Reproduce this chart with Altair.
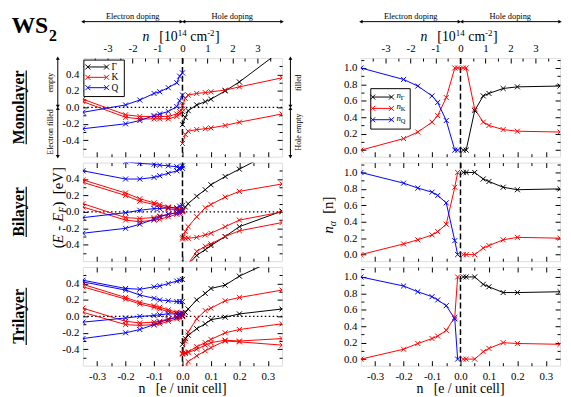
import altair as alt
import pandas as pd

FONT = "Liberation Serif, Times New Roman, serif"
BLACK, RED, BLUE = "#000000", "#ff0000", "#0000ff"
XPATH = "M-1,-1L1,1M-1,1L1,-1"
NB = "\u00a0"

# ---------------- doping grids (e / unit cell) ----------------
XB_E = [-0.35, -0.2, -0.15, -0.1, -0.08, -0.05, -0.02, -0.01, 0.0]
XB_H = [0.0, 0.01, 0.02, 0.05, 0.08, 0.1, 0.15, 0.2, 0.35]
XO_E = [-0.35, -0.2, -0.15, -0.1, -0.08, -0.05, -0.02, -0.01]
XO_H = [0.01, 0.02, 0.05, 0.08, 0.1, 0.15, 0.2, 0.35]

# ---------------- band energies (E - E_F) [eV] ----------------
# Monolayer
M_Q1 = [-0.06, 0.03, 0.09, 0.17, 0.19, 0.24, 0.30, 0.38, 0.42]
M_Q2 = [-0.26, -0.20, -0.16, -0.10, -0.08, -0.05, 0.01, 0.08, 0.15]
M_K1 = [0.10, -0.09, -0.11, -0.11, -0.11, -0.11, -0.08, -0.05, -0.02]
M_K2 = [0.07, -0.12, -0.14, -0.14, -0.14, -0.14, -0.11, -0.08, -0.05]
M_G = [-0.21, -0.12, -0.04, 0.03, 0.07, 0.10, 0.20, 0.31, 0.70]
M_KV1 = [0.02, 0.11, 0.15, 0.17, 0.18, 0.19, 0.21, 0.25, 0.36]
M_KV2 = [-0.44, -0.33, -0.29, -0.27, -0.26, -0.25, -0.22, -0.18, -0.08]
# Bilayer
B_Q1 = [0.70, 0.61, 0.59, 0.58, 0.57, 0.56, 0.55, 0.54, 0.56]
B_Q2 = [0.50, 0.40, 0.40, 0.42, 0.44, 0.47, 0.50, 0.52, 0.53]
B_Q3 = [-0.07, -0.01, 0.02, 0.04, 0.04, 0.05, 0.05, 0.07, 0.08]
B_Q4 = [-0.26, -0.20, -0.15, -0.09, -0.06, -0.03, -0.01, 0.0, 0.01]
B_K1 = [0.39, 0.23, 0.16, 0.11, 0.09, 0.06, 0.04, 0.03, 0.03]
B_K2 = [0.36, 0.20, 0.13, 0.09, 0.07, 0.04, 0.02, 0.02, 0.02]
B_K3 = [0.10, -0.07, -0.08, -0.07, -0.05, -0.03, -0.01, 0.0, 0.01]
B_K4 = [0.06, -0.10, -0.12, -0.10, -0.09, -0.06, -0.03, -0.02, 0.0]
B_G1 = [0.02, 0.06, 0.10, 0.19, 0.27, 0.33, 0.43, 0.52, 0.79]
B_G2 = [-0.80, -0.72, -0.64, -0.53, -0.46, -0.41, -0.30, -0.18, 0.01]
B_KV1 = [-0.33, -0.24, -0.18, -0.06, 0.05, 0.09, 0.18, 0.25, 0.34]
B_KV2 = [-0.31, -0.32, -0.32, -0.31, -0.28, -0.26, -0.18, -0.10, 0.0]
B_KV3 = [-0.80, -0.72, -0.63, -0.48, -0.42, -0.39, -0.30, -0.23, -0.13]
# Trilayer
T_Q1 = [0.44, 0.34, 0.33, 0.36, 0.37, 0.40, 0.43, 0.44, 0.45]
T_Q2 = [0.42, 0.32, 0.26, 0.22, 0.20, 0.19, 0.18, 0.18, 0.18]
T_Q3 = [-0.07, -0.02, 0.0, 0.01, 0.02, 0.03, 0.03, 0.03, 0.04]
T_Q4 = [-0.27, -0.20, -0.16, -0.10, -0.07, -0.04, -0.01, 0.0, 0.01]
T_K1 = [0.39, 0.23, 0.17, 0.13, 0.11, 0.08, 0.05, 0.04, 0.04]
T_K2 = [0.36, 0.21, 0.15, 0.11, 0.09, 0.06, 0.03, 0.03, 0.03]
T_K3 = [0.10, -0.06, -0.08, -0.07, -0.06, -0.03, -0.01, 0.0, 0.01]
T_K4 = [0.05, -0.10, -0.11, -0.10, -0.09, -0.06, -0.03, -0.02, 0.0]
T_G1 = [0.0, 0.05, 0.09, 0.20, 0.28, 0.34, 0.38, 0.49, 0.73]
T_G2 = [-0.34, -0.27, -0.23, -0.15, -0.09, -0.04, -0.01, 0.03, 0.09]
T_KV1 = [-0.45, -0.30, -0.19, -0.03, 0.07, 0.10, 0.19, 0.23, 0.32]
T_KV2 = [-0.45, -0.44, -0.43, -0.37, -0.32, -0.28, -0.20, -0.16, -0.09]
T_KV3 = [-0.46, -0.45, -0.44, -0.40, -0.35, -0.32, -0.29, -0.30, -0.27]
T_KV4 = [-0.70, -0.62, -0.55, -0.48, -0.42, -0.38, -0.30, -0.31, -0.35]

# ---------------- valley occupations n_alpha ----------------
M_nQ = [1.0, 0.86, 0.78, 0.66, 0.58, 0.36, 0.0, 0.0]
M_nK_e = [0.0, 0.14, 0.22, 0.34, 0.42, 0.64, 1.0, 1.0]
M_nK_h = [1.0, 1.0, 0.50, 0.34, 0.30, 0.25, 0.23, 0.22]
M_nG = [0.0, 0.0, 0.48, 0.66, 0.69, 0.75, 0.77, 0.78]
B_nQ = [1.0, 0.87, 0.81, 0.76, 0.72, 0.63, 0.17, 0.0]
B_nK_e = [0.0, 0.13, 0.18, 0.24, 0.28, 0.37, 0.82, 1.0]
B_nK_h = [0.0, 0.0, 0.0, 0.08, 0.11, 0.18, 0.21, 0.20]
B_nG = [1.0, 1.0, 1.0, 0.92, 0.89, 0.82, 0.79, 0.80]
T_nQ = [1.0, 0.89, 0.82, 0.76, 0.72, 0.65, 0.49, 0.0]
T_nK_e = [0.0, 0.12, 0.19, 0.25, 0.28, 0.35, 0.51, 1.0]
T_nK_h = [0.0, 0.0, 0.0, 0.09, 0.13, 0.20, 0.19, 0.18]
T_nG = [1.0, 1.0, 1.0, 0.91, 0.88, 0.81, 0.81, 0.82]

# ---------------- axes / labels ----------------
XMAJ = [-0.3, -0.2, -0.1, 0.0, 0.1, 0.2, 0.3]
XMIN = [-0.25, -0.15, -0.05, 0.05, 0.15, 0.25]
TOP_TICKS = [-3, -2, -1, 0, 1, 2, 3]
TOP_MINOR = [-3.5, -2.5, -1.5, -0.5, 0.5, 1.5, 2.5, 3.5]
CM_PER_E = 11.4  # 10^14 cm^-2 per (e / unit cell)
E_MAJ = [-0.4, -0.2, 0.0, 0.2, 0.4]
E_MIN = [-0.5, -0.3, -0.1, 0.1, 0.3, 0.5]
O_MAJ = [0.0, 0.2, 0.4, 0.6, 0.8, 1.0]
O_MIN = [0.1, 0.3, 0.5, 0.7, 0.9, 1.1]
E_DOM = [-0.6, 0.6]
O_DOM = [-0.08, 1.12]
ROW_LABELS = ["Monolayer", "Bilayer", "Trilayer"]
LEG_BANDS = ["\u0393", "K", "Q"]
LEG_COLORS = [BLACK, RED, BLUE]
X_TITLE = "n" + NB * 3 + "[e / unit cell]"

W, H = 202, 100
rows = []


def add(panel, band, color, xs, ys):
    for x, y in zip(xs, ys):
        rows.append(dict(panel=panel, band=band, color=color, x=x, y=y))


for p, bands in [
    ("L1", [("G", BLACK, XB_H, M_G), ("K1", RED, XB_E, M_K1), ("K2", RED, XB_E, M_K2),
            ("KV1", RED, XB_H, M_KV1), ("KV2", RED, XB_H, M_KV2),
            ("Q1", BLUE, XB_E, M_Q1), ("Q2", BLUE, XB_E, M_Q2)]),
    ("L2", [("G1", BLACK, XB_H, B_G1), ("G2", BLACK, XB_H, B_G2),
            ("K1", RED, XB_E, B_K1), ("K2", RED, XB_E, B_K2), ("K3", RED, XB_E, B_K3), ("K4", RED, XB_E, B_K4),
            ("KV1", RED, XB_H, B_KV1), ("KV2", RED, XB_H, B_KV2), ("KV3", RED, XB_H, B_KV3),
            ("Q1", BLUE, XB_E, B_Q1), ("Q2", BLUE, XB_E, B_Q2), ("Q3", BLUE, XB_E, B_Q3), ("Q4", BLUE, XB_E, B_Q4)]),
    ("L3", [("G1", BLACK, XB_H, T_G1), ("G2", BLACK, XB_H, T_G2),
            ("K1", RED, XB_E, T_K1), ("K2", RED, XB_E, T_K2), ("K3", RED, XB_E, T_K3), ("K4", RED, XB_E, T_K4),
            ("KV1", RED, XB_H, T_KV1), ("KV2", RED, XB_H, T_KV2), ("KV3", RED, XB_H, T_KV3), ("KV4", RED, XB_H, T_KV4),
            ("Q1", BLUE, XB_E, T_Q1), ("Q2", BLUE, XB_E, T_Q2), ("Q3", BLUE, XB_E, T_Q3), ("Q4", BLUE, XB_E, T_Q4)]),
    ("R1", [("G", BLACK, XO_H, M_nG), ("K", RED, XO_E + XO_H, M_nK_e + M_nK_h), ("Q", BLUE, XO_E, M_nQ)]),
    ("R2", [("G", BLACK, XO_H, B_nG), ("Ke", RED, XO_E, B_nK_e), ("Kh", RED, XO_H, B_nK_h), ("Q", BLUE, XO_E, B_nQ)]),
    ("R3", [("G", BLACK, XO_H, T_nG), ("Ke", RED, XO_E, T_nK_e), ("Kh", RED, XO_H, T_nK_h), ("Q", BLUE, XO_E, T_nQ)]),
]:
    for b in bands:
        add(p, *b)
DF = pd.DataFrame(rows)
ONE = pd.DataFrame({"k": [0]})

XS = alt.Scale(domain=[-0.35, 0.35], nice=False, zero=False)
FMT = "replace(format(datum.value, '.1f'), '\u2212', '-')"
CMFMT = "replace(format(round(datum.value * %s), 'd'), '\u2212', '-')" % CM_PER_E


def ax(orient, values, tick=0, labels=False, offset=None, expr=None, pad=4):
    kw = dict(orient=orient, values=values, grid=False, domain=False, title=None,
              labels=labels, ticks=tick > 0, tickSize=tick, tickColor="black", tickWidth=1)
    if offset is not None:
        kw["offset"] = offset
    if labels:
        kw.update(labelFont=FONT, labelFontSize=11, labelColor="black", labelPadding=pad,
                  labelExpr=expr, labelOverlap=False, labelFlush=False)
    return alt.Axis(**kw)


def T(t, x, y, size=11, angle=0, style="normal", weight="normal", align="center", baseline="middle"):
    return alt.Chart(ONE).mark_text(text=t, font=FONT, fontSize=size, angle=angle, fontStyle=style,
                                    fontWeight=weight, align=align, baseline=baseline, color="black"
                                    ).encode(x=alt.value(x), y=alt.value(y))


def R(x, y, x2=None, y2=None, color="black", w=1):
    enc = dict(x=alt.value(x), y=alt.value(y))
    if x2 is not None:
        enc["x2"] = alt.value(x2)
    if y2 is not None:
        enc["y2"] = alt.value(y2)
    return alt.Chart(ONE).mark_rule(color=color, strokeWidth=w).encode(**enc)


def P(x, y, shape=XPATH, color="black", size=26, filled=False):
    return alt.Chart(ONE).mark_point(shape=shape, color=color, size=size, filled=filled, strokeWidth=1,
                                     opacity=1).encode(x=alt.value(x), y=alt.value(y))


def harrows(ypx, ytxt):
    d = pd.DataFrame({"x1": [-0.35, 0.004], "x2": [-0.004, 0.35], "xm": [-0.175, 0.175],
                      "lab": ["Electron doping", "Hole doping"]})
    c = alt.Chart(d)
    return [
        c.mark_rule(color="black", strokeWidth=1).encode(x=alt.X("x1:Q", scale=XS, axis=None), x2="x2:Q", y=alt.value(ypx)),
        c.mark_point(shape="triangle-left", filled=True, color="black", size=16, opacity=1).encode(
            x=alt.X("x1:Q", scale=XS, axis=None), y=alt.value(ypx)),
        c.mark_point(shape="triangle-right", filled=True, color="black", size=16, opacity=1).encode(
            x=alt.X("x2:Q", scale=XS, axis=None), y=alt.value(ypx)),
        c.mark_text(font=FONT, fontSize=8.5, color="black").encode(
            x=alt.X("xm:Q", scale=XS, axis=None), y=alt.value(ytxt), text="lab:N"),
    ]


def varrows(xpx, xtxt, labels):
    ys = alt.Scale(domain=E_DOM, nice=False, zero=False)
    d = pd.DataFrame({"y1": [0.6, -0.012], "y2": [0.012, -0.6], "ym": [0.3, -0.3], "lab": labels})
    c = alt.Chart(d)
    return [
        c.mark_rule(color="black", strokeWidth=1).encode(y=alt.Y("y1:Q", scale=ys, axis=None), y2="y2:Q", x=alt.value(xpx)),
        c.mark_point(shape="triangle-up", filled=True, color="black", size=16, opacity=1).encode(
            y=alt.Y("y1:Q", scale=ys, axis=None), x=alt.value(xpx)),
        c.mark_point(shape="triangle-down", filled=True, color="black", size=16, opacity=1).encode(
            y=alt.Y("y2:Q", scale=ys, axis=None), x=alt.value(xpx)),
        c.mark_text(font=FONT, fontSize=8, color="black", angle=270).encode(
            y=alt.Y("ym:Q", scale=ys, axis=None), x=alt.value(xtxt), text="lab:N"),
    ]


def top_title(x0, y):
    return [T("n", x0, y, 14, style="italic", align="left", baseline="alphabetic"),
            T("[10", x0 + 17, y, 14, align="left", baseline="alphabetic"),
            T("14", x0 + 35.7, y - 5, 9, align="left", baseline="alphabetic"),
            T("cm", x0 + 48.5, y, 14, align="left", baseline="alphabetic"),
            T("-2", x0 + 65.5, y - 5, 9, align="left", baseline="alphabetic"),
            T("]", x0 + 73.5, y, 14, align="left", baseline="alphabetic")]


def row_label(txt, length):
    return [T(txt, -60, H / 2, 16, angle=270, weight="bold", baseline="alphabetic"),
            R(-57.5, H / 2 - length / 2, y2=H / 2 + length / 2, w=1.2)]


def legend_left():
    out = [alt.Chart(ONE).mark_rect(fill="white", stroke="black", strokeWidth=1).encode(
        x=alt.value(1), x2=alt.value(42), y=alt.value(2), y2=alt.value(39))]
    for lab, col, yy in zip(LEG_BANDS, LEG_COLORS, [9, 19.5, 30]):
        out += [R(5, yy, x2=24, color=col), P(5, yy, color=col), P(24, yy, color=col),
                T(lab, 29, yy, 9.5, align="left")]
    return out


def legend_right():
    out = [alt.Chart(ONE).mark_rect(fill="white", stroke="black", strokeWidth=1).encode(
        x=alt.value(10), x2=alt.value(50), y=alt.value(31), y2=alt.value(72))]
    for lab, col, yy in zip(LEG_BANDS, LEG_COLORS, [39.5, 51, 62.5]):
        out += [R(12, yy, x2=31, color=col), P(12, yy, color=col), P(31, yy, color=col),
                T("n", 36, yy + 1, 9, style="italic", align="left", baseline="alphabetic"),
                T(lab, 40.5, yy + 3, 6.5, align="left", baseline="alphabetic")]
    return out


def panel(pid, ydom, ymaj, ymin, top_cm=False, bottom_lab=False, zero_line=False, extras=()):
    df = DF[DF.panel == pid]
    ys = alt.Scale(domain=ydom, nice=False, zero=False)
    topv = [t / CM_PER_E for t in TOP_TICKS] if top_cm else XMAJ
    topm = [t / CM_PER_E for t in TOP_MINOR] if top_cm else XMIN
    xaxes = [
        ax("bottom", XMAJ, labels=True, expr=FMT, pad=5) if bottom_lab else None,
        ax("top", XMAJ, tick=5, offset=-H),
        ax("top", XMIN, tick=3, offset=-H),
        ax("bottom", topv, tick=5, offset=-H),
        ax("bottom", topm, tick=3, offset=-H),
        ax("top", topv, labels=True, expr=CMFMT, pad=5) if top_cm else None,
    ]
    yaxes = [
        ax("left", ymaj, labels=True, expr=FMT, pad=4),
        ax("right", ymaj, tick=5, offset=-W),
        ax("right", ymin, tick=3, offset=-W),
        ax("left", ymaj, tick=5, offset=-W),
        ax("left", ymin, tick=3, offset=-W),
        None,
    ]
    dummy = pd.DataFrame({"x": [0.0], "y": [ydom[0]]})
    layers = [alt.Chart(dummy).mark_point(opacity=0).encode(
        x=alt.X("x:Q", scale=XS, axis=xa), y=alt.Y("y:Q", scale=ys, axis=ya)) for xa, ya in zip(xaxes, yaxes)]
    if zero_line:
        layers.append(alt.Chart(pd.DataFrame({"y": [0.0]})).mark_rule(
            color="black", strokeWidth=1.3, strokeDash=[1.5, 2.5]).encode(y=alt.Y("y:Q", scale=ys, axis=None)))
    layers.append(alt.Chart(pd.DataFrame({"x": [0.0]})).mark_rule(
        color="black", strokeWidth=1.5, strokeDash=[6, 3]).encode(x=alt.X("x:Q", scale=XS, axis=None)))
    ex = alt.X("x:Q", scale=XS, axis=None)
    ey = alt.Y("y:Q", scale=ys, axis=None)
    col = alt.Color("color:N", scale=None, legend=None)
    layers.append(alt.Chart(df).mark_line(strokeWidth=1, clip=True).encode(x=ex, y=ey, color=col, detail="band:N"))
    layers.append(alt.Chart(df).mark_point(shape=XPATH, size=26, filled=False, strokeWidth=1, opacity=1,
                                           clip=True).encode(x=ex, y=ey, color=col))
    layers += list(extras)
    return alt.layer(*layers).resolve_axis(x="independent", y="independent").properties(width=W, height=H)


# ---------------- annotations ----------------
L1_extra = ([T("WS", -72.5, -25, 24, weight="bold", align="left", baseline="alphabetic"),
             T("2", -34.5, -17, 16, weight="bold", align="left", baseline="alphabetic")]
            + harrows(-37, -43) + top_title(60.5, -17) + legend_left()
            + row_label(ROW_LABELS[0], 75)
            + varrows(-25.5, -32.5, ["empty", "Electron filled"])
            + varrows(210.5, 219.5, ["filled", "Hole empty"]))

L2_extra = (row_label(ROW_LABELS[1], 51)
            + [T("(", -20.5, 87, 15, angle=270, align="left", baseline="alphabetic"),
               T("E - E", -20.5, 82, 15, angle=270, style="italic", align="left", baseline="alphabetic"),
               T("F", -17, 51, 10, angle=270, style="italic", align="left", baseline="alphabetic"),
               T(")", -20.5, 44.5, 15, angle=270, align="left", baseline="alphabetic"),
               T("[eV]", -20.5, 32, 15, angle=270, align="left", baseline="alphabetic")])

L3_extra = row_label(ROW_LABELS[2], 58) + [T(X_TITLE, W / 2, 124, 14)]

R1_extra = harrows(-37, -43) + top_title(60.5, -17) + legend_right()
R2_extra = [T("n", -28, 72, 15, angle=270, style="italic", align="left", baseline="alphabetic"),
            T("\u03b1", -25, 64.5, 10, angle=270, style="italic", align="left", baseline="alphabetic"),
            T("[n]", -28, 52, 15, angle=270, align="left", baseline="alphabetic")]
R3_extra = [T(X_TITLE, W / 2, 124, 14)]

L1 = panel("L1", E_DOM, E_MAJ, E_MIN, top_cm=True, zero_line=True, extras=L1_extra)
L2 = panel("L2", E_DOM, E_MAJ, E_MIN, zero_line=True, extras=L2_extra)
L3 = panel("L3", E_DOM, E_MAJ, E_MIN, bottom_lab=True, zero_line=True, extras=L3_extra)
R1 = panel("R1", O_DOM, O_MAJ, O_MIN, top_cm=True, extras=R1_extra)
R2 = panel("R2", O_DOM, O_MAJ, O_MIN, extras=R2_extra)
R3 = panel("R3", O_DOM, O_MAJ, O_MIN, bottom_lab=True, extras=R3_extra)

chart = alt.concat(L1, R1, L2, R2, L3, R3, columns=2, spacing={"row": 6, "column": 80}, bounds="flush"
                   ).properties(padding={"left": 2, "top": 0, "right": 0, "bottom": 0}
                   ).configure_view(stroke="black", strokeWidth=1.5
                   ).configure(background="white")

chart.save("out.html", embed_options={"renderer": "svg", "actions": False})
